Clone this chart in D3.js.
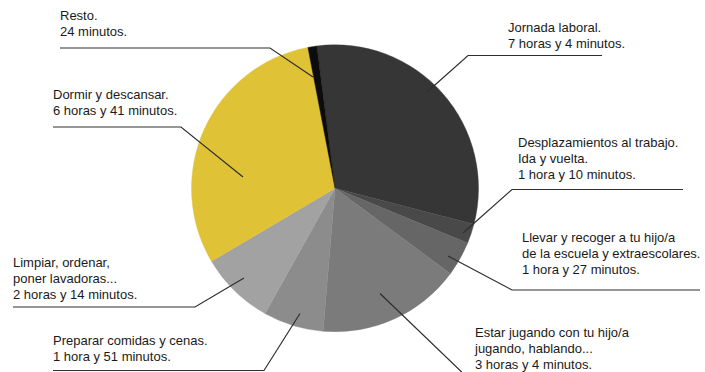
<!DOCTYPE html>
<html>
<head>
<meta charset="utf-8">
<script src="https://cdn.jsdelivr.net/npm/d3@7"></script>
<style>
  html, body { margin: 0; padding: 0; background: #fff; }
  svg { display: block; }
  text { font-family: "Liberation Sans", Arial, sans-serif; font-size: 13px; fill: #1a1a1a; }
</style>
</head>
<body>
<svg id="chart"></svg>
<script>
// categories, in drawing order (clockwise from the top)
var categories = ["Jornada laboral", "Desplazamientos", "Llevar y recoger", "Estar jugando",
                  "Preparar comidas", "Limpiar", "Dormir", "Resto"];
// share of the pie each slice takes (percent)
var shares = [31.1, 2.2, 3.9, 16.2, 6.8, 8.4, 30.5, 1.0];
// label texts, one list of lines per category
var labelLines = [
  ["Jornada laboral.", "7 horas y 4 minutos."],
  ["Desplazamientos al trabajo.", "Ida y vuelta.", "1 hora y 10 minutos."],
  ["Llevar y recoger a tu hijo/a", "de la escuela y extraescolares.", "1 hora y 27 minutos."],
  ["Estar jugando con tu hijo/a", "jugando, hablando...", "3 horas y 4 minutos."],
  ["Preparar comidas y cenas.", "1 hora y 51 minutos."],
  ["Limpiar, ordenar,", "poner lavadoras...", "2 horas y 14 minutos."],
  ["Dormir y descansar.", "6 horas y 41 minutos."],
  ["Resto.", "24 minutos."]
];
var colors = ["#363636", "#494949", "#666666", "#7b7b7b", "#8b8c8b", "#a1a2a1", "#e0c237", "#0c0c0c"];

var w = 705, h = 372;
var cx = 335, cy = 188.3, radius = 143.5;
var startDeg = -7.3;
var lineGap = 16;

// label placement: text x, first baseline, underline y and its two ends,
// the end that meets the diagonal ("elbow"), and the leader tip inside the slice
var layout = [
  {x: 508, y: 32,   uy: 55.5,  u0: 468, u1: 602, elbow: "left",  tip: [427, 92]},
  {x: 518, y: 147,  uy: 189.5, u0: 512, u1: 683, elbow: "left",  tip: [463, 233]},
  {x: 522, y: 242,  uy: 290,   u0: 512, u1: 700, elbow: "left",  tip: [448, 256]},
  {x: 475, y: 337,  uy: 380,   u0: 470, u1: 705, elbow: "left",  tip: [380, 293.5]},
  {x: 53,  y: 345,  uy: 370.5, u0: 53,  u1: 264, elbow: "right", tip: [300, 313.5]},
  {x: 13,  y: 267,  uy: 307,   u0: 13,  u1: 195, elbow: "right", tip: [244, 278]},
  {x: 53,  y: 99,   uy: 127,   u0: 53,  u1: 181, elbow: "right", tip: [243, 177]},
  {x: 60,  y: 19.5, uy: 48,    u0: 60,  u1: 270, elbow: "right", tip: [313, 77]}
];

var svg = d3.select("#chart").attr("width", w).attr("height", h);

var pie = d3.pie()
  .sort(null)
  .value(function(d){ return d; })
  .startAngle(startDeg * Math.PI / 180)
  .endAngle(startDeg * Math.PI / 180 + 2 * Math.PI);

var arc = d3.arc().innerRadius(0).outerRadius(radius);

var g = svg.append("g").attr("transform", "translate(" + cx + "," + cy + ")");
g.selectAll("path")
  .data(pie(shares))
  .enter()
  .append("path")
    .attr("d", arc)
    .attr("fill", function(d, i){ return colors[i]; })
    .attr("stroke", function(d, i){ return colors[i]; })
    .attr("stroke-width", 0.4);

// leader lines: underline under the text, then a diagonal into the slice
var leaders = svg.append("g")
  .attr("fill", "none")
  .attr("stroke", "#2e2e2e")
  .attr("stroke-width", 1.2);

leaders.selectAll("path")
  .data(layout)
  .enter()
  .append("path")
    .attr("d", function(L){
      var pts = L.elbow == "left"
        ? [[L.u1, L.uy], [L.u0, L.uy], L.tip]
        : [[L.u0, L.uy], [L.u1, L.uy], L.tip];
      return d3.line()(pts);
    });

// label texts
var labels = svg.append("g");
labelLines.forEach(function(lines, i){
  var L = layout[i];
  var t = labels.append("text").attr("x", L.x).attr("y", L.y);
  lines.forEach(function(s, j){
    t.append("tspan").attr("x", L.x).attr("y", L.y + j * lineGap).text(s);
  });
});
</script>
</body>
</html>
